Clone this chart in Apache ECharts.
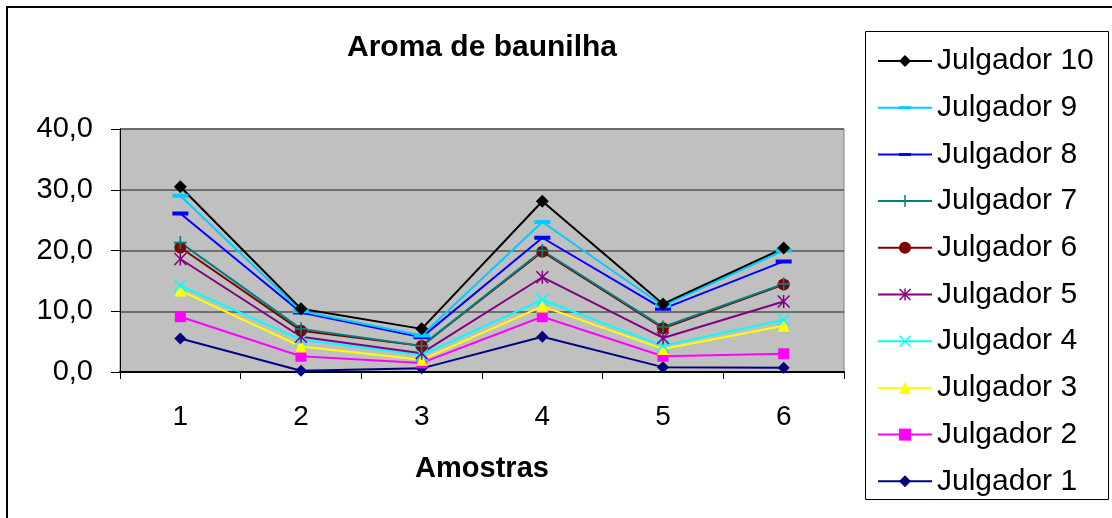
<!DOCTYPE html>
<html>
<head>
<meta charset="utf-8">
<script src="https://cdn.jsdelivr.net/npm/echarts@6/dist/echarts.min.js"></script>
<style>
html,body{margin:0;padding:0;background:#fff;}
#c{width:1112px;height:518px;}
</style>
</head>
<body>
<div id="c"></div>
<script>
const categories = ['1', '2', '3', '4', '5', '6'];
const yTickLabels = ['0,0', '10,0', '20,0', '30,0', '40,0'];
const seriesNames = ['Julgador 1', 'Julgador 2', 'Julgador 3', 'Julgador 4', 'Julgador 5',
                     'Julgador 6', 'Julgador 7', 'Julgador 8', 'Julgador 9', 'Julgador 10'];
const julgador1  = [5.5, 0.2, 0.6, 5.8, 0.8, 0.7];
const julgador2  = [9.1, 2.6, 1.5, 9.1, 2.6, 3.0];
const julgador3  = [13.4, 4.2, 2.0, 10.8, 3.8, 7.6];
const julgador4  = [14.2, 5.3, 2.8, 11.9, 4.3, 8.6];
const julgador5  = [18.6, 5.8, 3.1, 15.6, 5.6, 11.6];
const julgador6  = [20.5, 6.8, 4.3, 19.8, 7.2, 14.4];
const julgador7  = [21.3, 7.1, 4.3, 20.0, 7.4, 14.5];
const julgador8  = [26.1, 9.8, 5.7, 22.1, 10.4, 18.2];
const julgador9  = [29.0, 10.0, 6.0, 24.7, 10.9, 20.0];
const julgador10 = [30.5, 10.4, 7.1, 28.1, 11.2, 20.4];
const seriesValues = [julgador1, julgador2, julgador3, julgador4, julgador5,
                      julgador6, julgador7, julgador8, julgador9, julgador10];

const colors = ['#000080', '#FF00FF', '#FFFF00', '#00FFFF', '#800080',
                '#800000', '#008080', '#0000FF', '#00CCFF', '#000000'];
const PLUS = 'path://M5.25,0 L6.75,0 L6.75,5.25 L12,5.25 L12,6.75 L6.75,6.75 L6.75,12 L5.25,12 L5.25,6.75 L0,6.75 L0,5.25 L5.25,5.25 Z';
const XMARK = 'path://M0,1 L1,0 L12,11 L11,12 Z M11,0 L12,1 L1,12 L0,11 Z';
const STAR = 'path://M0,1 L1,0 L12,11 L11,12 Z M11,0 L12,1 L1,12 L0,11 Z M5.3,0 L6.7,0 L6.7,12 L5.3,12 Z';
const DASH_WIDE = 'path://M8,0 L8,0 Z M8,16 L8,16 Z M0,6 L16,6 L16,10 L0,10 Z';
const DASH_SHORT = 'path://M8,0 L8,0 Z M8,16 L8,16 Z M4,6 L12,6 L12,10 L4,10 Z';
const symbols = ['diamond', 'rect', 'triangle', XMARK, STAR, 'circle', PLUS, DASH_SHORT, DASH_WIDE, 'diamond'];
const sizes = [12, 11, 12, 13, 13, 12, 13, 16, 16, 13];

const FONT = '"Liberation Sans", Arial, sans-serif';

const series = seriesNames.map((n, i) => ({
  name: n,
  type: 'line',
  data: seriesValues[i],
  symbol: symbols[i],
  symbolSize: sizes[i],
  showAllSymbol: true,
  animation: false,
  lineStyle: { color: colors[i], width: 2 },
  itemStyle: { color: colors[i], borderWidth: 0 },
  emphasis: { disabled: true }
}));

const chart = echarts.init(document.getElementById('c'));
chart.setOption({
  animation: false,
  backgroundColor: '#ffffff',
  grid: {
    left: 120, top: 129, width: 724, height: 243,
    show: true, backgroundColor: '#C0C0C0', borderColor: '#808080', borderWidth: 1
  },
  xAxis: {
    type: 'category',
    data: categories,
    name: 'Amostras',
    nameLocation: 'middle',
    nameGap: 82,
    nameTextStyle: { fontFamily: FONT, fontSize: 29, fontWeight: 'bold', color: '#000' },
    axisLine: { lineStyle: { color: '#000', width: 2 } },
    axisTick: { show: true, length: 7, lineStyle: { color: '#000', width: 1 } },
    axisLabel: { fontFamily: FONT, fontSize: 28, color: '#000', margin: 31 },
    splitLine: { show: false }
  },
  yAxis: {
    type: 'value',
    min: 0, max: 40, interval: 10,
    axisLine: { show: true, lineStyle: { color: '#000', width: 1 } },
    axisTick: { show: true, length: 9, lineStyle: { color: '#000', width: 1 } },
    axisLabel: {
      fontFamily: FONT, fontSize: 29, color: '#000', margin: 27,
      formatter: v => yTickLabels[Math.round(v / 10)]
    },
    splitLine: { show: true, lineStyle: { color: '#555555', width: 1.5 } }
  },
  legend: {
    orient: 'vertical',
    left: 877, top: 46,
    padding: 0,
    itemWidth: 54, itemHeight: 15,
    itemGap: 16.7,
    data: seriesNames.slice().reverse(),
    textStyle: { fontFamily: FONT, fontSize: 30, color: '#000', lineHeight: 30, padding: [0, 0, 0, 0] },
    selectedMode: false
  },
  graphic: [
    { type: 'rect', z: -10, shape: { x: 7, y: 7, width: 1200, height: 600 },
      style: { fill: 'none', stroke: '#000', lineWidth: 2 } },
    { type: 'rect', z: -5, shape: { x: 865.5, y: 31.5, width: 243, height: 468 },
      style: { fill: '#fff', stroke: '#000', lineWidth: 1 } },
    { type: 'text', x: 482, y: 48,
      style: { text: 'Aroma de baunilha', fontFamily: FONT, fontSize: 30, fontWeight: 'bold',
               fill: '#000', align: 'center', verticalAlign: 'middle' } }
  ],
  series: series
});
</script>
</body>
</html>
